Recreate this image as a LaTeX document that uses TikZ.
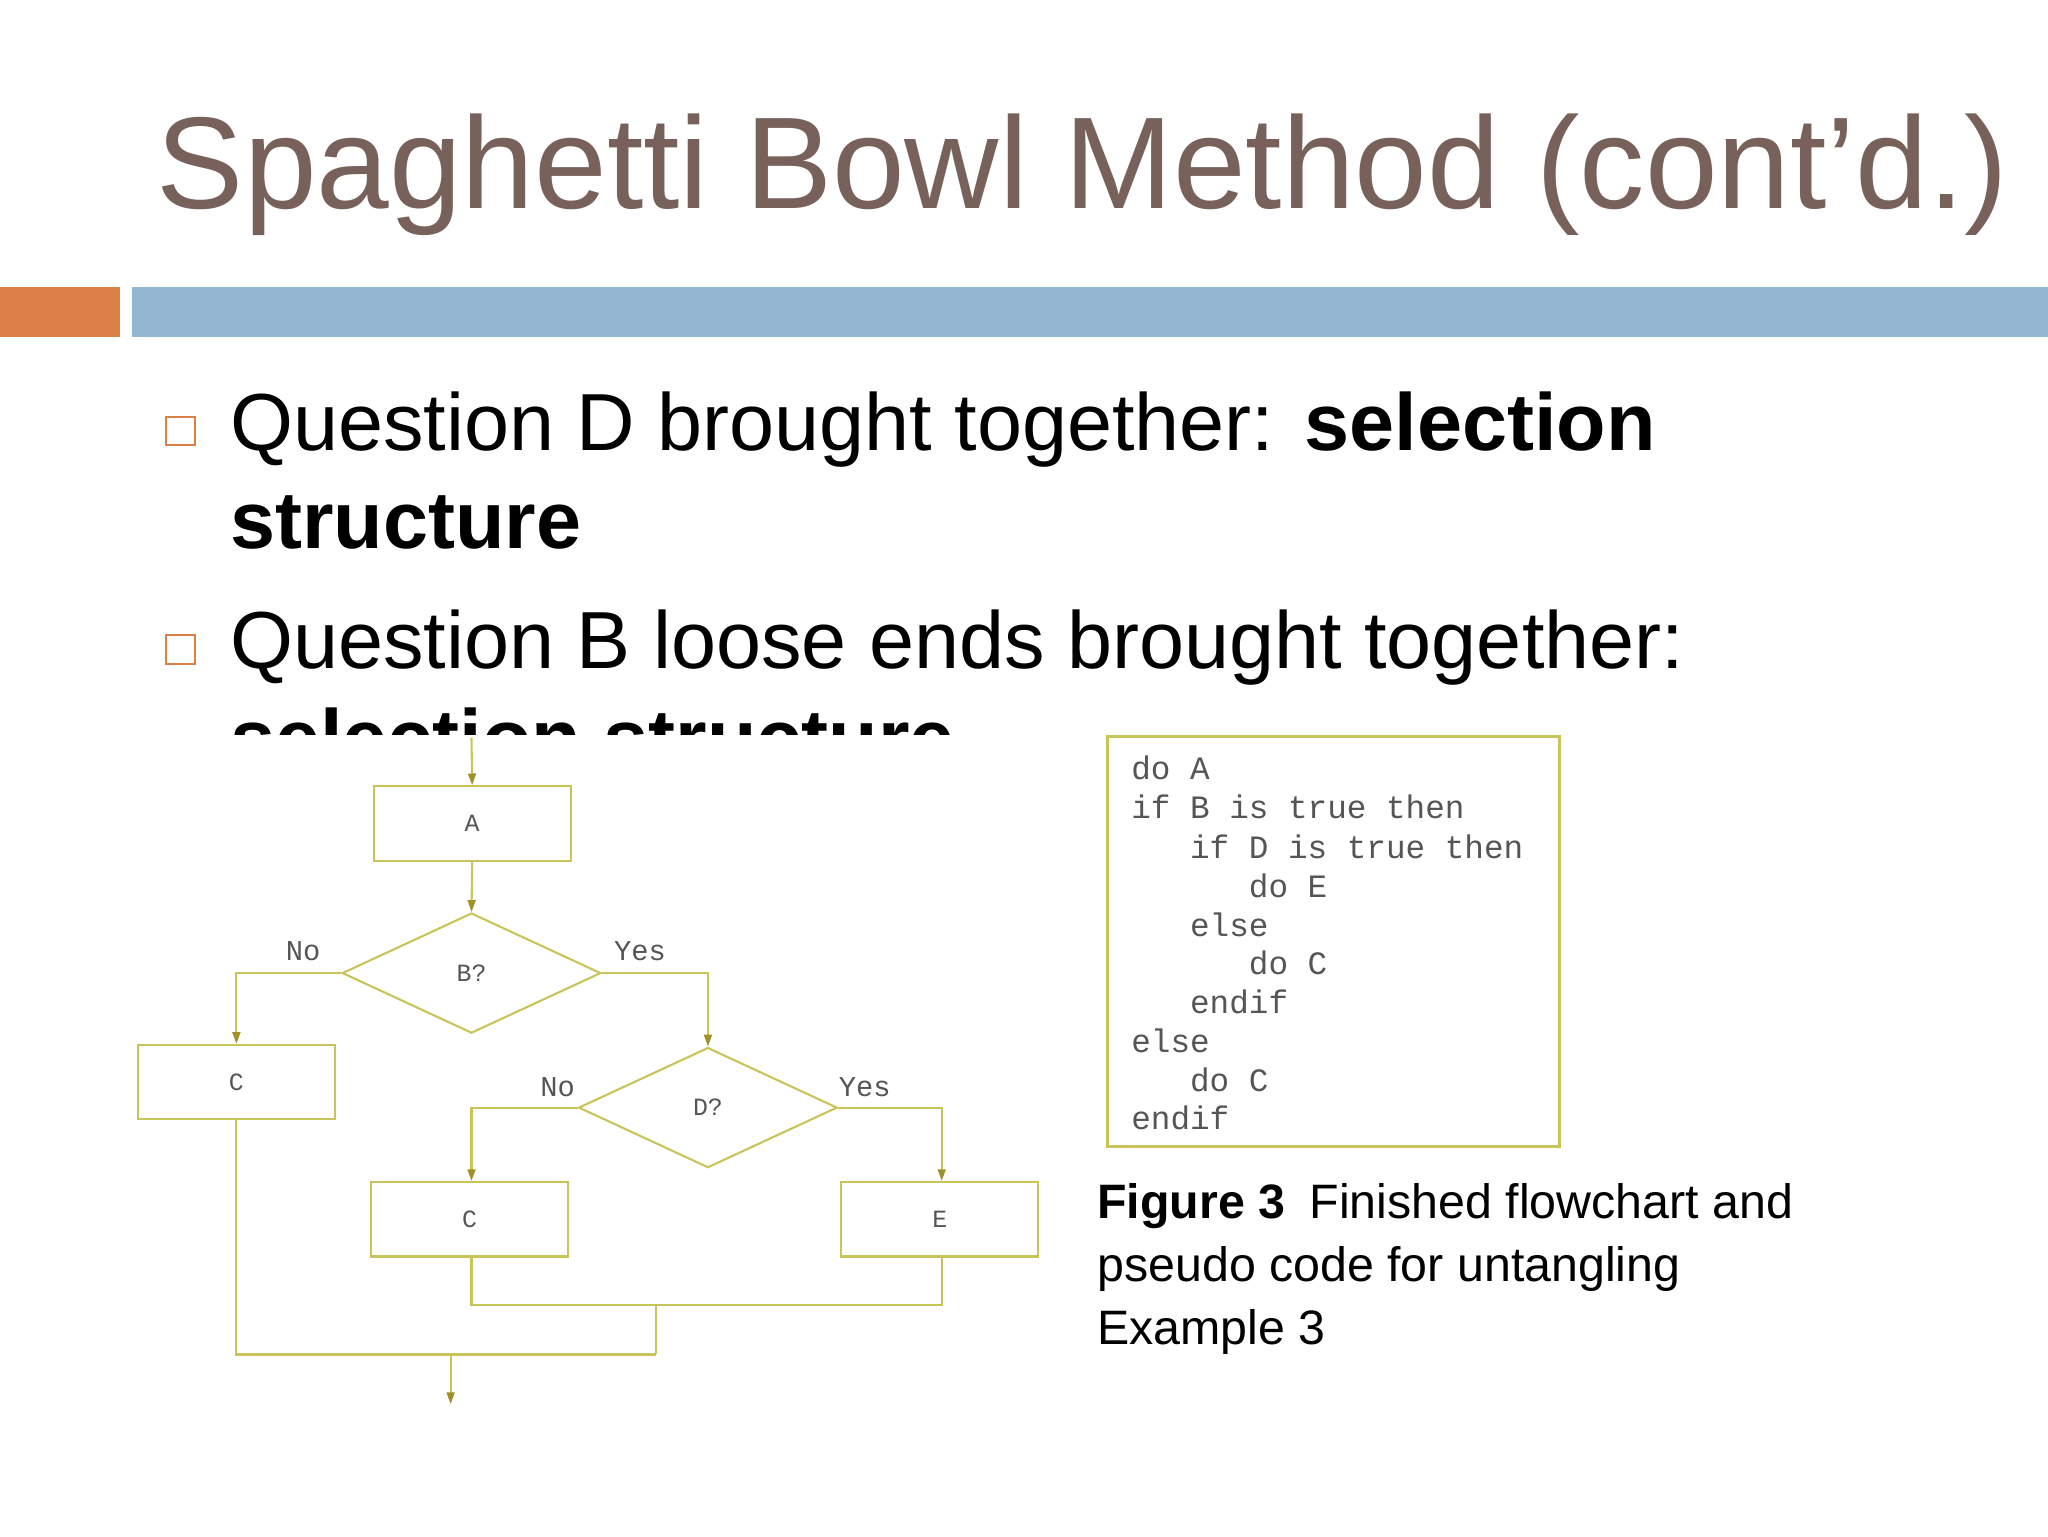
\documentclass[tikz,border=0pt]{standalone}
\usepackage{fontspec}
\setmainfont{Liberation Sans}
\setmonofont{Liberation Mono}
\usetikzlibrary{shapes.geometric,arrows.meta}
\definecolor{ttl}{HTML}{77615A}
\definecolor{org}{HTML}{DD8047}
\definecolor{blu}{HTML}{94B6D2}
\definecolor{fl}{HTML}{C8C45A}
\definecolor{ah}{HTML}{A09028}
\definecolor{ft}{HTML}{555555}
\tikzset{
 box/.style={draw=fl,line width=1.6pt,minimum width=151pt,minimum height=57pt,font=\ttfamily\fontsize{19}{19}\selectfont,text=ft,inner sep=0},
 dia/.style={draw=fl,line width=1.6pt,diamond,aspect=2.2,minimum width=198pt,minimum height=92pt,font=\ttfamily\fontsize{19}{19}\selectfont,text=ft,inner sep=0},
 ln/.style={draw=fl,line width=1.6pt},
 ar/.style={ln,-{Triangle[length=9pt,width=6pt,color=ah]}},
 lab/.style={font=\ttfamily\fontsize{22}{22}\selectfont,text=ft,inner sep=0},
 bul/.style={draw=org,line width=1.5pt,minimum size=22pt,inner sep=0},
 btxt/.style={anchor=base west,inner sep=0,font=\fontsize{62}{62}\selectfont},
 code/.style={anchor=base west,inner sep=0,font=\ttfamily\fontsize{25}{25}\selectfont,text=ft},
 captxt/.style={anchor=base west,inner sep=0,font=\fontsize{37}{37}\selectfont}
}
\begin{document}
\begin{tikzpicture}[x=1pt,y=-1pt]
\useasboundingbox (0,0) rectangle (1568,1176);
\fill[white] (0,0) rectangle (1568,1176);
\node[anchor=base west,inner sep=0,text=ttl,font=\fontsize{100}{100}\selectfont] (title) at (120,160) {Spaghetti Bowl Method (cont’d.)};
\fill[org] (0,220) rectangle (92,258);
\fill[blu] (101,220) rectangle (1568,258);
\node[bul] (b1) at (138,330) {};
\node[bul] (b2) at (138,497) {};
\node[btxt] (t1) at (176,345) {Question D brought together: \textbf{selection}};
\node[btxt] (t2) at (176,420) {\textbf{structure}};
\node[btxt] (t3) at (176,512) {Question B loose ends brought together:};
\node[btxt] (t4) at (176,587) {\textbf{selection structure}};
\fill[white] (95,563) rectangle (830,1100);
% flowchart
\coordinate (in) at (361,565);
\node[box] (A) at (361.5,630.5) {A};
\node[dia] (B) at (361,745) {B?};
\node[box] (C1) at (181,828.5) {C};
\node[dia] (D) at (542,848) {D?};
\node[box] (C2) at (359.5,933.5) {C};
\node[box] (E) at (719.5,933.5) {E};
\node[lab] (no1) at (232,728) {No};
\node[lab] (yes1) at (490,728) {Yes};
\node[lab] (no2) at (427,832) {No};
\node[lab] (yes2) at (662,832) {Yes};
\coordinate (m1) at (502,999);
\coordinate (m2) at (502,1037);
\coordinate (m3) at (345,1037);
\coordinate (out) at (345,1075);
\draw[ar] (in) -- (A.north);
\draw[ar] (A.south) -- (B.north);
\draw[ar] (B.west) -| (C1.north);
\draw[ar] (B.east) -| (D.north);
\draw[ar] (D.west) -| ([xshift=1.5pt]C2.north);
\draw[ar] (D.east) -| ([xshift=1.5pt]E.north);
\draw[ln] ([xshift=1.5pt]C2.south) |- (m1) -| ([xshift=1.5pt]E.south);
\draw[ln] (m1) -- (m2);
\draw[ln] (C1.south) |- (m2);
\draw[ar] (m3) -- (out);
% code
\node[draw=fl,line width=2pt,minimum width=346pt,minimum height=314pt,inner sep=0] (cb) at (1021,721) {};
\node[code] (c1) at (866,597) {do A};
\node[code] (c2) at (866,627) {if B is true then};
\node[code] (c3) at (911,657) {if D is true then};
\node[code] (c4) at (956,687) {do E};
\node[code] (c5) at (911,717) {else};
\node[code] (c6) at (956,746) {do C};
\node[code] (c7) at (911,776) {endif};
\node[code] (c8) at (866,806) {else};
\node[code] (c9) at (911,836) {do C};
\node[code] (c10) at (866,865) {endif};
\node[captxt] (f1) at (840,933) {\textbf{Figure 3}\hspace{0.5em}Finished flowchart and};
\node[captxt] (f2) at (840,981) {pseudo code for untangling};
\node[captxt] (f3) at (840,1029) {Example 3};
\end{tikzpicture}
\end{document}
